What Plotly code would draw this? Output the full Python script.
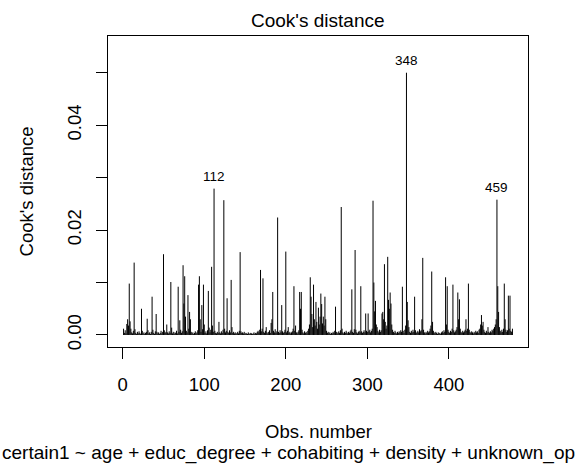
import plotly.graph_objects as go

cooks_d = [
    0.0012, 0.0004, 0.0009, 0.0003, 0.0021, 0.0030, 0.0018, 0.0098, 0.0026, 0.0012,
    0.0005, 0.0003, 0.0008, 0.0138, 0.0011, 0.0004, 0.0002, 0.0006, 0.0003, 0.0007,
    0.0004, 0.0002, 0.0050, 0.0008, 0.0003, 0.0005, 0.0002, 0.0004, 0.0006, 0.0031,
    0.0009, 0.0003, 0.0005, 0.0002, 0.0006, 0.0073, 0.0010, 0.0004, 0.0002, 0.0007,
    0.0040, 0.0006, 0.0003, 0.0005, 0.0002, 0.0004, 0.0008, 0.0003, 0.0006, 0.0154,
    0.0009, 0.0004, 0.0006, 0.0020, 0.0005, 0.0003, 0.0007, 0.0004, 0.0101, 0.0014,
    0.0003, 0.0006, 0.0002, 0.0005, 0.0004, 0.0008, 0.0003, 0.0092, 0.0006, 0.0028,
    0.0010, 0.0004, 0.0007, 0.0133, 0.0060, 0.0112, 0.0035, 0.0008, 0.0005, 0.0076,
    0.0012, 0.0044, 0.0030, 0.0006, 0.0003, 0.0005, 0.0002, 0.0004, 0.0007, 0.0003,
    0.0005, 0.0009, 0.0096, 0.0112, 0.0030, 0.0006, 0.0057, 0.0011, 0.0096, 0.0020,
    0.0004, 0.0007, 0.0003, 0.0009, 0.0084, 0.0014, 0.0005, 0.0010, 0.0130, 0.0018,
    0.0006, 0.0279, 0.0008, 0.0004, 0.0003, 0.0006, 0.0004, 0.0025, 0.0005, 0.0003,
    0.0007, 0.0004, 0.0010, 0.0257, 0.0012, 0.0005, 0.0008, 0.0070, 0.0006, 0.0004,
    0.0009, 0.0005, 0.0105, 0.0015, 0.0004, 0.0006, 0.0003, 0.0005, 0.0002, 0.0004,
    0.0006, 0.0003, 0.0008, 0.0158, 0.0007, 0.0004, 0.0005, 0.0003, 0.0006, 0.0002,
    0.0004, 0.0003, 0.0002, 0.0005, 0.0003, 0.0002, 0.0004, 0.0003, 0.0002, 0.0003,
    0.0005, 0.0002, 0.0004, 0.0003, 0.0006, 0.0008, 0.0005, 0.0010, 0.0124, 0.0007,
    0.0012, 0.0108, 0.0006, 0.0004, 0.0008, 0.0015, 0.0005, 0.0003, 0.0006, 0.0009,
    0.0004, 0.0023, 0.0030, 0.0082, 0.0008, 0.0005, 0.0011, 0.0004, 0.0007, 0.0224,
    0.0006, 0.0004, 0.0009, 0.0005, 0.0057, 0.0007, 0.0004, 0.0006, 0.0010, 0.0159,
    0.0005, 0.0008, 0.0015, 0.0004, 0.0006, 0.0003, 0.0005, 0.0007, 0.0012, 0.0093,
    0.0008, 0.0018, 0.0005, 0.0003, 0.0006, 0.0009, 0.0082, 0.0050, 0.0082, 0.0010,
    0.0005, 0.0003, 0.0007, 0.0004, 0.0006, 0.0003, 0.0008, 0.0012, 0.0020, 0.0110,
    0.0073, 0.0040, 0.0015, 0.0096, 0.0030, 0.0018, 0.0063, 0.0025, 0.0012, 0.0052,
    0.0020, 0.0035, 0.0079, 0.0059, 0.0022, 0.0035, 0.0018, 0.0073, 0.0030, 0.0008,
    0.0004, 0.0006, 0.0003, 0.0005, 0.0002, 0.0004, 0.0003, 0.0006, 0.0004, 0.0008,
    0.0054, 0.0006, 0.0003, 0.0005, 0.0007, 0.0004, 0.0009, 0.0244, 0.0012, 0.0005,
    0.0003, 0.0006, 0.0004, 0.0008, 0.0005, 0.0003, 0.0006, 0.0004, 0.0007, 0.0010,
    0.0087, 0.0006, 0.0004, 0.0011, 0.0162, 0.0010, 0.0005, 0.0003, 0.0006, 0.0008,
    0.0005, 0.0093, 0.0007, 0.0004, 0.0006, 0.0009, 0.0005, 0.0041, 0.0008, 0.0006,
    0.0041, 0.0007, 0.0010, 0.0005, 0.0008, 0.0012, 0.0256, 0.0100, 0.0045, 0.0065,
    0.0020, 0.0015, 0.0008, 0.0005, 0.0010, 0.0006, 0.0009, 0.0041, 0.0044, 0.0030,
    0.0135, 0.0025, 0.0012, 0.0018, 0.0149, 0.0067, 0.0050, 0.0081, 0.0060, 0.0020,
    0.0010, 0.0006, 0.0004, 0.0008, 0.0005, 0.0003, 0.0006, 0.0004, 0.0007, 0.0005,
    0.0009, 0.0006, 0.0092, 0.0008, 0.0004, 0.0010, 0.0018, 0.0500, 0.0063, 0.0028,
    0.0015, 0.0006, 0.0004, 0.0008, 0.0005, 0.0010, 0.0006, 0.0073, 0.0009, 0.0004,
    0.0006, 0.0008, 0.0005, 0.0011, 0.0007, 0.0009, 0.0030, 0.0147, 0.0010, 0.0005,
    0.0003, 0.0006, 0.0004, 0.0008, 0.0005, 0.0007, 0.0012, 0.0018, 0.0121, 0.0025,
    0.0008, 0.0005, 0.0003, 0.0006, 0.0004, 0.0002, 0.0005, 0.0003, 0.0004, 0.0002,
    0.0005, 0.0007, 0.0004, 0.0009, 0.0006, 0.0110, 0.0020, 0.0093, 0.0010, 0.0006,
    0.0004, 0.0008, 0.0006, 0.0012, 0.0096, 0.0009, 0.0005, 0.0007, 0.0010, 0.0015,
    0.0081, 0.0030, 0.0068, 0.0012, 0.0006, 0.0004, 0.0008, 0.0005, 0.0007, 0.0010,
    0.0030, 0.0008, 0.0012, 0.0098, 0.0010, 0.0006, 0.0004, 0.0007, 0.0005, 0.0003,
    0.0006, 0.0004, 0.0008, 0.0005, 0.0007, 0.0004, 0.0010, 0.0012, 0.0020, 0.0038,
    0.0018, 0.0025, 0.0010, 0.0006, 0.0004, 0.0008, 0.0005, 0.0015, 0.0006, 0.0004,
    0.0007, 0.0005, 0.0010, 0.0008, 0.0012, 0.0015, 0.0020, 0.0030, 0.0258, 0.0093,
    0.0044, 0.0015, 0.0008, 0.0005, 0.0010, 0.0006, 0.0012, 0.0098, 0.0030, 0.0010,
    0.0006, 0.0009, 0.0075, 0.0012, 0.0075, 0.0008, 0.0006, 0.0012,
]
obs_number = list(range(1, len(cooks_d) + 1))

x_tickvals = [0, 100, 200, 300, 400]
y_tickvals = [0.00, 0.01, 0.02, 0.03, 0.04, 0.05]
y_ticktext = ["0.00", "", "0.02", "", "0.04", ""]

title_text = "Cook's distance"
x_title = "Obs. number"
y_title = "Cook's distance"
sub_caption = "certain1 ~ age + educ_degree + cohabiting + density + unknown_op"

FONT = "Liberation Sans, Arial, sans-serif"

# vertical "h"-type lines
xs, ys = [], []
for i, v in zip(obs_number, cooks_d):
    xs += [i, i, None]
    ys += [0, v, None]

fig = go.Figure()
fig.add_trace(go.Scatter(x=xs, y=ys, mode="lines",
                         line=dict(color="black", width=1),
                         hoverinfo="skip", showlegend=False))

# label the three largest
top3 = sorted(obs_number, key=lambda i: cooks_d[i - 1], reverse=True)[:3]
annotations = []
for i in top3:
    annotations.append(dict(x=i, y=cooks_d[i - 1], xref="x", yref="y",
                            text=str(i), showarrow=False, yanchor="bottom",
                            yshift=3, font=dict(family=FONT, size=13.5, color="black")))

annotations += [
    dict(x=0.5, y=1.0514, xref="paper", yref="paper", text=title_text,
         showarrow=False, xanchor="center", yanchor="middle",
         font=dict(family=FONT, size=19, color="black")),
    dict(x=0.5, y=-0.2701, xref="paper", yref="paper", text=x_title,
         showarrow=False, xanchor="center", yanchor="middle",
         font=dict(family=FONT, size=18.5, color="black")),
    dict(x=-0.1929, y=0.5, xref="paper", yref="paper", text=y_title,
         showarrow=False, xanchor="center", yanchor="middle", textangle=-90,
         font=dict(family=FONT, size=18.5, color="black")),
    dict(x=(288 - 108) / 420, y=-0.3408, xref="paper", yref="paper", text=sub_caption,
         showarrow=False, xanchor="center", yanchor="middle",
         font=dict(family=FONT, size=19, color="black")),
]

axis_common = dict(showline=True, mirror=True, linecolor="black", linewidth=1,
                   ticks="outside", ticklen=11, tickwidth=1, tickcolor="black",
                   showgrid=False, zeroline=False,
                   tickfont=dict(family=FONT, size=18.5, color="black"))

fig.update_layout(
    width=577, height=469,
    margin=dict(l=108, r=49, t=36, b=122),
    plot_bgcolor="white", paper_bgcolor="white",
    showlegend=False,
    xaxis=dict(range=[-18.08, 497.08], tickvals=x_tickvals,
               ticktext=[str(v) for v in x_tickvals], ticklabelstandoff=10, **axis_common),
    yaxis=dict(range=[-0.00229, 0.0570], tickvals=y_tickvals, ticktext=y_ticktext,
               tickangle=-90, ticklabelstandoff=8, **axis_common),
    annotations=annotations,
)

fig.write_html("out.html")
